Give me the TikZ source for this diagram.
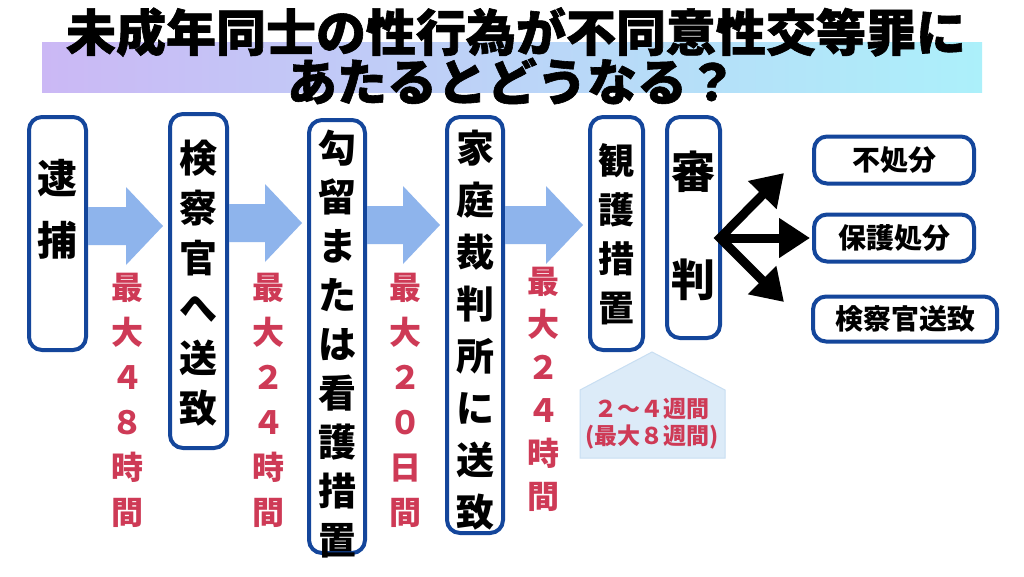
\documentclass[tikz,border=0pt]{standalone}
\usepackage{fontspec}
\newfontfamily\jp{Noto Sans CJK JP}
\newfontfamily\jpt{Noto Sans CJK JP}[BoldFeatures={FakeBold=1.2}]
\usetikzlibrary{calc,arrows.meta}
\definecolor{jblue}{RGB}{20,70,155}
\definecolor{ablue}{RGB}{142,180,236}
\definecolor{jred}{RGB}{206,58,86}
\definecolor{bandL}{RGB}{203,184,245}
\definecolor{bandR}{RGB}{172,240,250}
\definecolor{pent}{RGB}{220,235,248}
\definecolor{pentline}{RGB}{200,222,242}
\newcommand\blockarr[3]{%
  \path (#1.east |- 0,#3) coordinate (bs) (#2.west |- 0,#3) coordinate (bt);
  \fill[ablue] ($(bs)+(0,-19)$) -- ($(bt)+(-42,-19)$) -- ($(bt)+(-42,-39)$) -- ($(bt)+(-5,0)$)
     -- ($(bt)+(-42,39)$) -- ($(bt)+(-42,19)$) -- ($(bs)+(0,19)$) -- cycle;}
\begin{document}
\begin{tikzpicture}[x=1pt,y=-1pt,
  jbox/.style={draw=jblue, line width=4pt, rounded corners=13pt, fill=white, inner sep=0pt},
  vcol/.style n args={2}{font={\jp\bfseries\fontsize{#1}{#2}\selectfont}, align=center, inner sep=0pt},
  redcol/.style={vcol={32}{45}, text=jred},
  htext/.style={font={\jp\bfseries\fontsize{28}{34}\selectfont}, inner sep=0pt},
  titletext/.style={font={\jpt\bfseries\fontsize{50}{50}\selectfont}, inner sep=0pt},
  barrow/.style={line width=9pt, line join=miter, {Triangle[length=31pt,width=38pt]}-{Triangle[length=31pt,width=38pt]}},
  barrowone/.style={line width=9pt, -{Triangle[length=31pt,width=38pt]}}]
\useasboundingbox (0,0) rectangle (1024,576);
\fill[white] (0,0) rectangle (1024,576);
% title band
\shade[left color=bandL, right color=bandR] (42,42) rectangle (982,92);
\node[titletext] (t1) at (516,32) {未成年同士の性行為が不同意性交等罪に};
\node[titletext] (t2) at (512,81) {あたるとどうなる？};
% boxes
\node[jbox, minimum width=57, minimum height=233] (b1) at (57.5,233.5) {};
\node[vcol={40}{62}] at (57.5,209) {逮\\捕};
\node[jbox, minimum width=57, minimum height=334] (b2) at (198.5,281) {};
\node[vcol={38}{50}] at (198.5,283) {検\\察\\官\\へ\\送\\致};
\node[jbox, minimum width=56, minimum height=433] (b3) at (337,336.5) {};
\node[vcol={38}{49}] at (337,344) {勾\\留\\ま\\た\\は\\看\\護\\措\\置};
\node[jbox, minimum width=56, minimum height=416] (b4) at (475,325) {};
\node[vcol={38}{52}] at (475,330) {家\\庭\\裁\\判\\所\\に\\送\\致};
\node[jbox, minimum width=53, minimum height=233] (b5) at (616.5,233.5) {};
\node[vcol={36}{49}] at (616.5,234) {観\\護\\措\\置};
\node[jbox, minimum width=53, minimum height=221] (b6) at (693.5,227.5) {};
\node[vcol={44}{108}] at (693.5,226) {審\\判};
\node[jbox, minimum width=160, minimum height=47, htext] (f1) at (894,160) {不処分};
\node[jbox, minimum width=160, minimum height=47, htext] (f2) at (894,238) {保護処分};
\node[jbox, minimum width=184, minimum height=45, htext] (f3) at (905,319) {検察官送致};
% block arrows
\blockarr{b1}{b2}{226}
\blockarr{b2}{b3}{223}
\blockarr{b3}{b4}{225}
\blockarr{b4}{b5}{225}
% red durations
\node[redcol] (d1) at (127,400) {最\\大\\４\\８\\時\\間};
\node[redcol] (d2) at (268,400) {最\\大\\２\\４\\時\\間};
\node[redcol] (d3) at (405,400) {最\\大\\２\\０\\日\\間};
\node[vcol={32}{43}, text=jred] (d4) at (543,389) {最\\大\\２\\４\\時\\間};
% pentagon
\draw[fill=pent, draw=pentline, line width=1pt] (580,458) -- (580,390) -- (652,352) -- (725,390) -- (725,458) -- cycle;
\node[font={\jp\bfseries\fontsize{23}{23}\selectfont}, text=jred, inner sep=0pt] (p1) at (652,409) {２～４週間};
\node[font={\jp\bfseries\fontsize{23}{23}\selectfont}, text=jred, inner sep=0pt] (p2) at (652,437) {(最大８週間)};
% black arrows
\coordinate (fork) at (720,238);
\coordinate (upend) at (784,173);
\coordinate (dnend) at (784,302);
\draw[barrow] (upend) -- (fork) -- (dnend);
\draw[barrowone] (fork) -- ($(f2.west)+(-2,0)$);
\end{tikzpicture}
\end{document}
